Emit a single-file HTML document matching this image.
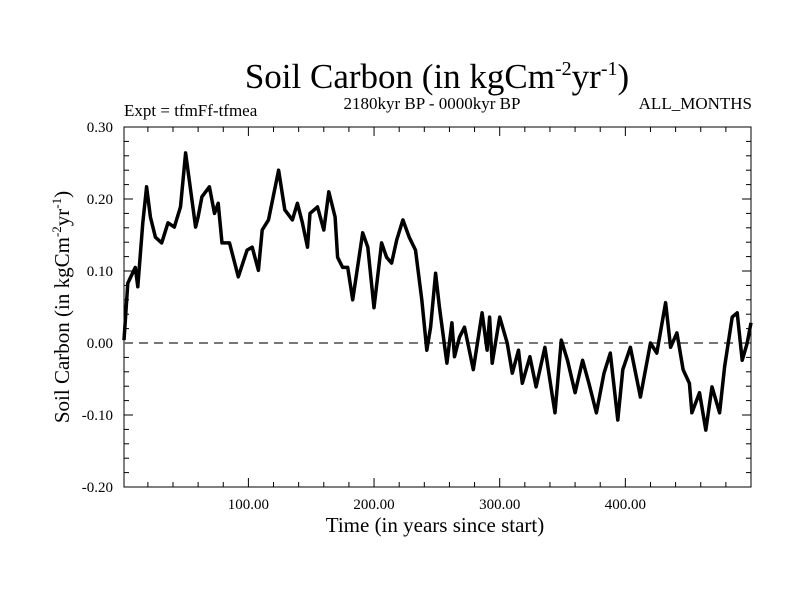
<!DOCTYPE html>
<html><head><meta charset="utf-8"><style>
body{margin:0;background:#fff;}
svg{display:block;font-family:"Liberation Serif",serif;}
</style></head><body>
<svg id="chart" width="800" height="600">
<text x="437" y="88" font-size="35" text-anchor="middle">Soil Carbon (in kgCm<tspan dy="-13" font-size="20">-2</tspan><tspan dy="13">yr</tspan><tspan dy="-13" font-size="20">-1</tspan><tspan dy="13">)</tspan></text>
<text x="124" y="116" font-size="17">Expt = tfmFf-tfmea</text>
<text x="432" y="109" font-size="17" text-anchor="middle">2180kyr BP - 0000kyr BP</text>
<text x="752" y="109" font-size="17" text-anchor="end">ALL_MONTHS</text>
<text x="435" y="532" font-size="21" text-anchor="middle">Time (in years since start)</text>
<text transform="translate(69,307) rotate(-90)" font-size="21" text-anchor="middle">Soil Carbon (in kgCm<tspan dy="-8" font-size="13">-2</tspan><tspan dy="8">yr</tspan><tspan dy="-8" font-size="13">-1</tspan><tspan dy="8">)</tspan></text>
<g id="axes"></g>
<g id="series"></g>
</svg>
<script>
const years=[1,4,10,12,16,19,22,26,31,36,41,46,50,53,58,60,63,69,73,76,79,85,92,99,103,108,111,116,124,129,135,139,143,147,149,155,160,164,169,171,175,179,183,191,195,200,206,210,214,218,223,228,233,238,242,245,249,252,258,262,264,268,272,279,286,290,292,294,300,306,310,315,318,324,329,336,342,344,349,354,360,366,371,377,383,388,394,398,404,412,420,425,432,436,441,446,451,453,459,464,469,475,479,485,489,493,497,500];
const values=[0.004,0.083,0.105,0.078,0.167,0.217,0.175,0.147,0.139,0.167,0.161,0.189,0.264,0.226,0.161,0.175,0.203,0.217,0.18,0.194,0.139,0.139,0.092,0.129,0.133,0.101,0.157,0.171,0.24,0.185,0.171,0.194,0.167,0.133,0.18,0.189,0.157,0.21,0.175,0.119,0.105,0.105,0.06,0.153,0.133,0.049,0.139,0.119,0.111,0.143,0.171,0.147,0.129,0.06,-0.01,0.022,0.097,0.05,-0.028,0.028,-0.019,0.008,0.022,-0.037,0.042,-0.01,0.036,-0.028,0.036,0,-0.042,-0.01,-0.056,-0.019,-0.061,-0.006,-0.075,-0.097,0.004,-0.024,-0.069,-0.024,-0.056,-0.097,-0.042,-0.014,-0.107,-0.037,-0.006,-0.075,0,-0.014,0.056,-0.006,0.014,-0.037,-0.056,-0.097,-0.069,-0.121,-0.061,-0.097,-0.033,0.036,0.042,-0.024,0,0.028];
const xMajorTicks=[100,200,300,400];
const xTickLabels=["100.00","200.00","300.00","400.00"];
const yMajorTicks=[0.3,0.2,0.1,0,-0.1,-0.2];
const yTickLabels=["0.30","0.20","0.10","0.00","-0.10","-0.20"];
const L=124,R=751,T=127,B=487,X0=1,X1=500,Y0=-0.2,Y1=0.3;
const sx=v=>L+(v-X0)/(X1-X0)*(R-L);
const sy=v=>B-(v-Y0)/(Y1-Y0)*(B-T);
const NS="http://www.w3.org/2000/svg";
const axes=document.getElementById('axes');
function mk(tag,attrs,parent){const e=document.createElementNS(NS,tag);for(const k in attrs)e.setAttribute(k,attrs[k]);parent.appendChild(e);return e;}
const frame=mk('rect',{x:L,y:T,width:R-L,height:B-T,fill:'none',stroke:'#000','stroke-width':1},axes);


for(let v=20;v<X1;v+=20){const major=v%100===0;const len=major?9:5;
 const t1=mk('line',{x1:sx(v),x2:sx(v),y1:B,y2:B-len,stroke:'#000'},axes);
 
 
 const t2=mk('line',{x1:sx(v),x2:sx(v),y1:T,y2:T+len,stroke:'#000'},axes);
 
 }
xMajorTicks.forEach((v,i)=>{const t=mk('text',{x:sx(v),y:B+22,'font-size':15,'text-anchor':'middle'},axes);t.textContent=xTickLabels[i];
 
 });
for(let k=-10;k<=15;k++){const v=k*0.02;const major=k%5===0;const len=major?9:5;
 const t1=mk('line',{x1:L,x2:L+len,y1:sy(v),y2:sy(v),stroke:'#000'},axes);
 
 
 const t2=mk('line',{x1:R,x2:R-len,y1:sy(v),y2:sy(v),stroke:'#000'},axes);
 
 }
yMajorTicks.forEach((v,i)=>{const t=mk('text',{x:113,y:sy(v)+5,'font-size':15,'text-anchor':'end'},axes);t.textContent=yTickLabels[i];
 
 });
const zero=mk('line',{x1:L,x2:R,y1:sy(0),y2:sy(0),stroke:'#777','stroke-width':2,'stroke-dasharray':'9,6'},axes);


const pts=years.map((t,i)=>sx(t).toFixed(1)+','+sy(values[i]).toFixed(1)).join(' ');
const line=mk('polyline',{points:pts,fill:'none',stroke:'#000','stroke-width':3.5,'stroke-linejoin':'round'},document.getElementById('series'));


</script>
</body></html>
